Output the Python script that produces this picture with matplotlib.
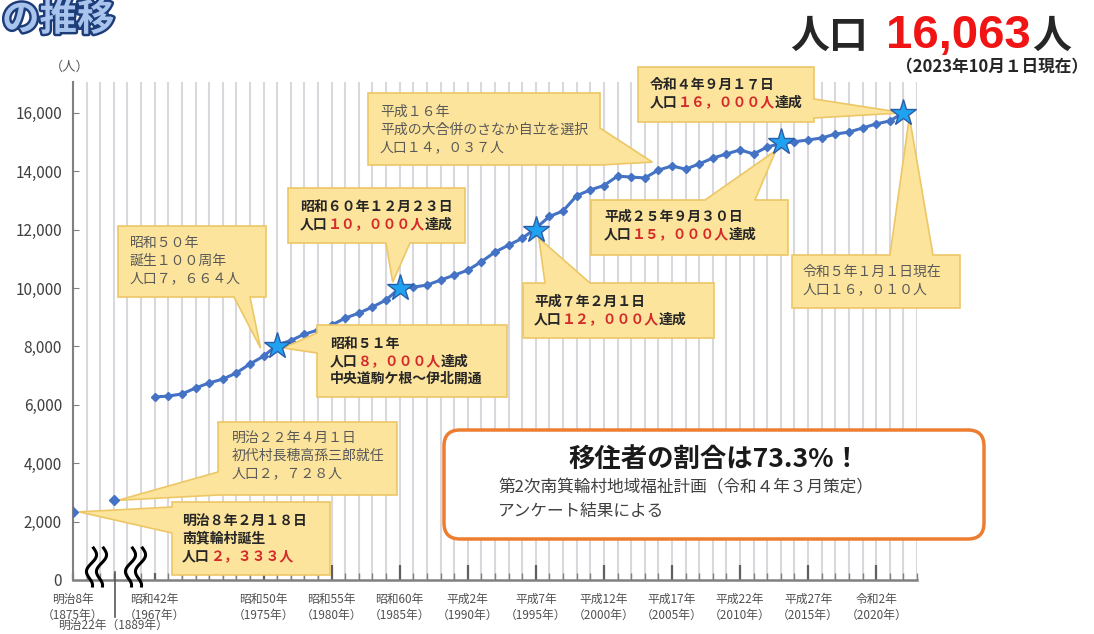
import numpy as np
import matplotlib
matplotlib.use('Agg')
import matplotlib.pyplot as plt
import matplotlib.transforms as mtransforms
import matplotlib.patheffects as pe
from matplotlib.patches import Polygon, FancyBboxPatch

plt.rcParams['font.family'] = ['Noto Sans CJK JP', 'DejaVu Sans']

# ================== データ ==================
# 明治期の2点（横軸は省略表示なので 1961 / 1964 の位置に置く）
early_pos = [1961, 1964]
early_pop = [2333, 2728]

years = list(range(1967, 2023))
pop = [6267, 6300, 6370, 6575, 6750, 6880, 7090, 7400, 7664, 8050,
       8200, 8420, 8560, 8730, 8970, 9140, 9350, 9590, 10000, 10030,
       10100, 10270, 10440, 10610, 10900, 11230, 11470, 11700, 12050, 12450,
       12640, 13160, 13360, 13510, 13830, 13800, 13770, 14037, 14180, 14070,
       14250, 14450, 14590, 14730, 14590, 14830, 14950, 15010, 15070, 15140,
       15270, 15340, 15480, 15620, 15720, 16000]

# 節目（★）
star_years = [1976, 1985, 1995, 2013, 2022]
star_pop = [8000, 10000, 12000, 15000, 16000]

tick_pos = [1961, 1967, 1975, 1980, 1985, 1990, 1995, 2000, 2005, 2010, 2015, 2020]
tick_labels = ['明治8年\n（1875年）', '昭和42年\n（1967年）', '昭和50年\n（1975年）',
               '昭和55年\n（1980年）', '昭和60年\n（1985年）', '平成2年\n（1990年）',
               '平成7年\n（1995年）', '平成12年\n（2000年）', '平成17年\n（2005年）',
               '平成22年\n（2010年）', '平成27年\n（2015年）', '令和2年\n（2020年）']

RED = '#D42A2A'
BLK = '#262626'
GRY = '#595959'
YEL = '#FCE49C'
YEL_EDGE = '#EDC766'

W, H = 1094, 634
fig = plt.figure(figsize=(W / 100, H / 100), dpi=100)
# ピクセル座標（左上原点）
PX = mtransforms.Affine2D().scale(1 / W, -1 / H).translate(0, 1) + fig.transFigure

ax = fig.add_axes([73 / W, 1 - 580 / H, 844 / W, 498 / H])
ax.set_xlim(1961, 2023)
ax.set_ylim(0, 17055)

# 軸まわり
for s in ['top', 'right']:
    ax.spines[s].set_visible(False)
ax.spines['left'].set_color('#808080')
ax.spines['left'].set_linewidth(1.5)
ax.spines['bottom'].set_color('#808080')
ax.spines['bottom'].set_linewidth(1.8)

ax.set_yticks(range(0, 16001, 2000))
ax.set_yticklabels([f'{v:,}' for v in range(0, 16001, 2000)])
ax.tick_params(axis='y', direction='in', length=4, color='#808080', labelsize=11,
               labelcolor='#404040', pad=8)

ax.set_xticks(tick_pos)
ax.set_xticklabels(tick_labels, fontsize=8.5, color='#505050', linespacing=1.3)
ax.set_xticks(range(1962, 2024), minor=True)
ax.tick_params(axis='x', which='major', direction='in', length=11, width=1.6,
               color='#606060', pad=9)
ax.tick_params(axis='x', which='minor', direction='in', length=5, width=1,
               color='#808080')
for t in ax.xaxis.get_major_ticks()[:2]:
    t.tick1line.set_markersize(5)
ax.grid(axis='x', which='both', color='#D8D8DD', lw=1.5)
ax.set_axisbelow(True)

# 折れ線と点
ax.plot(years, pop, color='#4472C4', lw=2.2, marker='D', ms=4, zorder=3)
ax.plot(early_pos, early_pop, ls='none', color='#4472C4', marker='D', ms=5, zorder=7)
ax.plot(star_years, star_pop, ls='none', marker='*', ms=20, mfc='#1FA2F0',
        mec='#2D5DA8', mew=1, zorder=8)

fig.canvas.draw()
renderer = fig.canvas.get_renderer()


def to_px(x, y):
    return PX.inverted().transform(ax.transData.transform((x, y)))


def rich(x, y, parts, size=10, weight='normal', va='center', family=None):
    for s, c in parts:
        kw = {}
        if family:
            kw['family'] = family
        t = ax.text(x, y, s, transform=PX, color=c, fontsize=size, fontweight=weight,
                    ha='left', va=va, zorder=9, clip_on=False, **kw)
        x += t.get_window_extent(renderer=renderer).width
    return x


def callout(box, side, base, tip, lines, tx, ty0, bold):
    x0, y0, x1, y1 = box
    a, b = base
    px, py = tip
    if side == 'bottom':
        verts = [(x0, y0), (x1, y0), (x1, y1), (b, y1), (px, py), (a, y1), (x0, y1)]
    elif side == 'top':
        verts = [(x0, y0), (a, y0), (px, py), (b, y0), (x1, y0), (x1, y1), (x0, y1)]
    elif side == 'left':
        verts = [(x0, y0), (x1, y0), (x1, y1), (x0, y1), (x0, b), (px, py), (x0, a)]
    else:
        verts = [(x0, y0), (x1, y0), (x1, a), (px, py), (x1, b), (x1, y1), (x0, y1)]
    ax.add_patch(Polygon(verts, closed=True, transform=PX, facecolor=YEL,
                         edgecolor=YEL_EDGE, lw=1.2, zorder=5, clip_on=False,
                         joinstyle='miter'))
    for i, parts in enumerate(lines):
        rich(tx, ty0 + i * 17.5, parts, size=10, weight='bold' if bold else 'normal')


def tip_at(x, y, dx, dy):
    p = to_px(x, y)
    return (p[0] + dx, p[1] + dy)


def g(s):
    return [(s, GRY)]


callouts = [
    dict(box=(118, 226, 266, 297), side='bottom', base=(234, 250),
         tip=tip_at(1975, 7664, -3, -8),
         lines=[g('昭和５０年'), g('誕生１００周年'), g('人口７，６６４人')],
         tx=130, ty0=243, bold=False),
    dict(box=(317, 325, 507, 397), side='left', base=(333, 353),
         tip=tip_at(1976, 8050, 6, 3),
         lines=[[('昭和５１年', BLK)], [('人口', BLK), ('８，０００人', RED), ('達成', BLK)],
                [('中央道駒ケ根～伊北開通', BLK)]],
         tx=330, ty0=344, bold=True),
    dict(box=(288, 188, 465, 243), side='bottom', base=(386, 410),
         tip=tip_at(1985, 10000, -7, -6),
         lines=[[('昭和６０年１２月２３日', BLK)],
                [('人口', BLK), ('１０，０００人', RED), ('達成', BLK)]],
         tx=300, ty0=207, bold=True),
    dict(box=(368, 93, 600, 165), side='right', base=(128, 165),
         tip=tip_at(2004, 14037, -6, -8),
         lines=[g('平成１６年'), g('平成の大合併のさなか自立を選択'), g('人口１４，０３７人')],
         tx=380, ty0=112, bold=False),
    dict(box=(523, 283, 714, 338), side='top', base=(545, 590),
         tip=tip_at(1995, 12050, 3, 10),
         lines=[[('平成７年２月１日', BLK)],
                [('人口', BLK), ('１２，０００人', RED), ('達成', BLK)]],
         tx=534, ty0=302, bold=True),
    dict(box=(591, 200, 788, 255), side='top', base=(705, 755),
         tip=tip_at(2013, 14950, -5, 7),
         lines=[[('平成２５年９月３０日', BLK)],
                [('人口', BLK), ('１５，０００人', RED), ('達成', BLK)]],
         tx=604, ty0=217, bold=True),
    dict(box=(638, 67, 814, 122), side='right', base=(99, 118),
         tip=tip_at(2022, 16000, 0, 0),
         lines=[[('令和４年９月１７日', BLK)],
                [('人口', BLK), ('１６，０００人', RED), ('達成', BLK)]],
         tx=650, ty0=85, bold=True),
    dict(box=(792, 255, 960, 308), side='top', base=(890, 933),
         tip=tip_at(2022, 16000, 6, 4),
         lines=[g('令和５年１月１日現在'), g('人口１６，０１０人')],
         tx=803, ty0=272, bold=False),
    dict(box=(218, 422, 397, 495), side='left', base=(472, 495),
         tip=tip_at(1964, 2728, 4, 0),
         lines=[g('明治２２年４月１日'), g('初代村長穂高孫三郎就任'), g('人口２，７２８人')],
         tx=232, ty0=438, bold=False),
    dict(box=(172, 502, 330, 575), side='left', base=(507, 533),
         tip=tip_at(1961, 2333, 6, 0),
         lines=[[('明治８年２月１８日', BLK)], [('南箕輪村誕生', BLK)],
                [('人口', BLK), ('２，３３３人', RED)]],
         tx=182, ty0=521, bold=True),
]
for c in callouts:
    callout(**c)

# 移住者の割合ボックス
ax.add_patch(FancyBboxPatch((444, 430), 540, 109,
                            boxstyle='round,pad=0,rounding_size=16', transform=PX,
                            facecolor='white', edgecolor='#ED7D31', lw=2.5,
                            zorder=5, clip_on=False))
ax.text(714, 459, '移住者の割合は73.3%！', transform=PX, fontsize=19, fontweight='bold',
        color='#1a1a1a', ha='center', va='center', zorder=9)
ax.text(498, 488, '第2次南箕輪村地域福祉計画（令和４年３月策定）', transform=PX,
        fontsize=12, color='#404040', ha='left', va='center', zorder=9)
ax.text(498, 511, 'アンケート結果による', transform=PX, fontsize=12,
        color='#404040', ha='left', va='center', zorder=9)

# 省略記号（波線）と明治22年の区切り線
tt = np.linspace(0, 1, 60)
for xc in (96, 135):
    for off in (-5, 5):
        xs = xc + off + 5 * (0.5 - tt) + 4 * np.sin(2 * np.pi * 1.25 * tt)
        ys = 548 + 38 * tt
        ax.plot(xs, ys, transform=PX, color='black', lw=2.2, clip_on=False, zorder=6)
ax.plot([115, 115], [572, 617], transform=PX, color='#555555', lw=1.2,
        clip_on=False, zorder=6)
ax.text(113, 625, '明治22年（1889年）', transform=PX, fontsize=8.5, color='#505050',
        ha='center', va='center', clip_on=False)

# 単位
ax.text(70, 67, '（人）', transform=PX, fontsize=9.5, color='#555555',
        ha='center', va='center', clip_on=False)

# タイトル（左上）
ax.text(2, 19, 'の推移', transform=PX, fontsize=27, fontweight='bold', color='#A9C4EC',
        ha='left', va='center', clip_on=False,
        path_effects=[pe.Stroke(linewidth=3.5, foreground='#1D3C7A'), pe.Normal()])

# 右上の人口
xe = rich(790, 48, [('人口', BLK)], size=28, weight='bold', va='baseline')
xe = rich(xe + 18, 48, [('16,063', '#F01414')], size=34, weight='bold', va='baseline',
          family='Liberation Sans')
rich(xe + 2, 48, [('人', BLK)], size=28, weight='bold', va='baseline')
ax.text(992, 67, '（2023年10月１日現在）', transform=PX, fontsize=12, fontweight='bold',
        color=BLK, ha='center', va='center', clip_on=False)

fig.savefig('out.png', dpi=100)
